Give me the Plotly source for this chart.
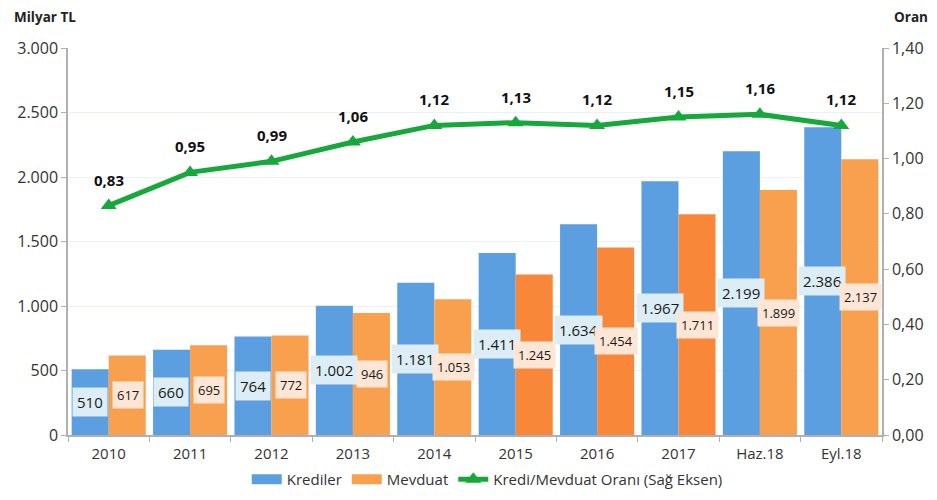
import plotly.graph_objects as go

categories = ["2010", "2011", "2012", "2013", "2014", "2015", "2016", "2017", "Haz.18", "Eyl.18"]
krediler = [510, 660, 764, 1002, 1181, 1411, 1634, 1967, 2199, 2386]
mevduat = [617, 695, 772, 946, 1053, 1245, 1454, 1711, 1899, 2137]
oran = [0.83, 0.95, 0.99, 1.06, 1.12, 1.13, 1.12, 1.15, 1.16, 1.12]

blue = "#5b9fe0"
orange_light = "#f9a04e"
orange_dark = "#f8873a"
orange_colors = [orange_light] * 5 + [orange_dark] * 3 + [orange_light] * 2
green = "#17a83b"


def tr_int(v):
    return f"{v:,}".replace(",", ".")


def tr_dec(v):
    return f"{v:.2f}".replace(".", ",")


fig = go.Figure()
fig.add_trace(go.Bar(x=categories, y=krediler, name="Krediler", showlegend=False,
                     marker=dict(color=blue, line=dict(width=0))))
fig.add_trace(go.Bar(x=categories, y=mevduat, name="Mevduat", showlegend=False,
                     marker=dict(color=orange_colors, line=dict(width=0))))
# legend proxies drawn as wide rectangles
fig.add_trace(go.Scatter(x=[None], y=[None], mode="lines", name="Krediler",
                         line=dict(color=blue, width=10)))
fig.add_trace(go.Scatter(x=[None], y=[None], mode="lines", name="Mevduat",
                         line=dict(color=orange_light, width=10)))
fig.add_trace(go.Scatter(x=categories, y=oran, name="Kredi/Mevduat Oranı (Sağ Eksen)",
                         yaxis="y2", mode="lines+markers",
                         line=dict(color=green, width=5),
                         marker=dict(symbol="triangle-up", size=14, color=green)))

annotations = []
for i, (k, m, r) in enumerate(zip(krediler, mevduat, oran)):
    annotations.append(dict(x=i, y=k / 2, xref="x", yref="y", text=tr_int(k),
                            showarrow=False, xshift=-19,
                            font=dict(size=15, color="#1a1a1a", family="Open Sans"),
                            bgcolor="#dcedf5", borderpad=4))
    annotations.append(dict(x=i, y=m / 2, xref="x", yref="y", text=tr_int(m),
                            showarrow=False, xshift=19,
                            font=dict(size=13, color="#1a1a1a", family="Open Sans"),
                            bgcolor="#fde6d6", borderpad=4))
    annotations.append(dict(x=i, y=r, xref="x", yref="y2", text="<b>" + tr_dec(r) + "</b>",
                            showarrow=False, yshift=26,
                            font=dict(size=15, color="#111111", family="Open Sans")))

annotations.append(dict(x=0, y=1, xref="paper", yref="paper", xanchor="left", yanchor="bottom",
                        xshift=-56, yshift=20, text="<b>Milyar TL</b>", showarrow=False,
                        font=dict(size=13.5, color="#222", family="Open Sans")))
annotations.append(dict(x=1, y=1, xref="paper", yref="paper", xanchor="left", yanchor="bottom",
                        xshift=10, yshift=20, text="<b>Oran</b>", showarrow=False,
                        font=dict(size=13.5, color="#222", family="Open Sans")))

fig.update_layout(
    annotations=annotations,
    width=937, height=500,
    margin=dict(l=68, r=55, t=48, b=65, autoexpand=False),
    paper_bgcolor="white", plot_bgcolor="white",
    separators=",.",
    barmode="group", bargap=0.09, bargroupgap=0,
    font=dict(family="Open Sans", size=14, color="#333"),
    showlegend=True,
    legend=dict(orientation="h", x=0.52, xanchor="center", xref="container",
                y=0.008, yanchor="bottom", yref="container",
                font=dict(size=15, color="#333"), itemwidth=30, traceorder="normal"),
    xaxis=dict(type="category", range=[-0.5, 9.5], showline=True, linecolor="#b0b0b0", linewidth=1.5,
               ticks="outside", tickson="boundaries", ticklen=5, tickcolor="#b0b0b0",
               ticklabelstandoff=4,
               tickfont=dict(size=15, color="#333"), automargin=False),
    yaxis=dict(range=[0, 3000], dtick=500, tickformat=",.0f",
               showline=True, linecolor="#b0b0b0", linewidth=1.5,
               ticks="outside", ticklen=5, tickcolor="#b0b0b0",
               gridcolor="#eaf1f8", gridwidth=1, zeroline=False,
               tickfont=dict(size=16, color="#333"), automargin=False),
    yaxis2=dict(range=[0, 1.4], dtick=0.2, tickformat=".2f", overlaying="y", side="right",
                showline=True, linecolor="#b0b0b0", linewidth=1.5,
                ticks="outside", ticklen=5, tickcolor="#b0b0b0",
                showgrid=False, zeroline=False,
                tickfont=dict(size=16, color="#333"), automargin=False),
)

fig.write_html("out.html", config={"displayModeBar": False},
               post_script="document.body.style.margin='0';")
